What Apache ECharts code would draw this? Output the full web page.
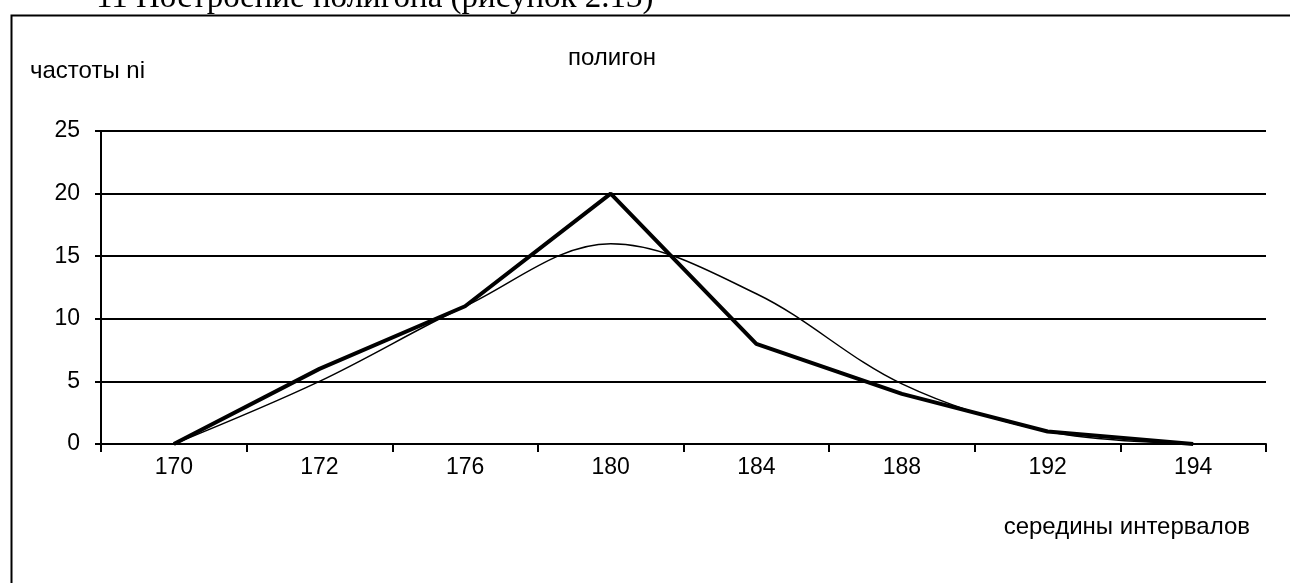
<!DOCTYPE html>
<html><head><meta charset="utf-8">
<script src="https://cdn.jsdelivr.net/npm/echarts@6/dist/echarts.min.js"></script>
<style>html,body{margin:0;padding:0;background:#fff}#c{width:1290px;height:583px}</style>
</head><body><div id="c"></div>
<script>
const categories = ['170','172','176','180','184','188','192','194'];
const polygonValues = [0, 6, 11, 20, 8, 4, 1, 0];
const trendValues = [0, 5, 11, 16, 12, 4.8, 1, 0];
const yTicks = {min: 0, max: 25, interval: 5};

const chart = echarts.init(document.getElementById('c'), null, {renderer: 'canvas'});
const font = '"Liberation Sans", Arial, sans-serif';
chart.setOption({
  animation: false,
  backgroundColor: '#fff',
  graphic: [
    {type: 'rect', left: 9, top: 13, shape: {width: 1300, height: 620}, style: {fill: 'none', stroke: '#000', lineWidth: 2}, z: 100},
    {type: 'text', x: 96, y: -2, style: {text: '11 Построение полигона (рисунок 2.13)', font: '33px "Liberation Serif", "Times New Roman", serif', fill: '#000', textVerticalAlign: 'middle'}, z: 100},
    {type: 'text', x: 30, y: 71, style: {text: 'частоты ni', font: '24px ' + font, fill: '#000', textVerticalAlign: 'middle'}},
    {type: 'text', x: 612, y: 58, style: {text: 'полигон', font: '24px ' + font, fill: '#000', textAlign: 'center', textVerticalAlign: 'middle'}},
    {type: 'text', x: 1250, y: 527, style: {text: 'середины интервалов', font: '24px ' + font, fill: '#000', textAlign: 'right', textVerticalAlign: 'middle'}}
  ],
  grid: {left: 101, right: 24, top: 131, bottom: 139, containLabel: false},
  xAxis: {
    type: 'category', data: categories, boundaryGap: true,
    axisLine: {lineStyle: {color: '#000', width: 2}},
    axisTick: {show: true, inside: false, length: 8, interval: 0, lineStyle: {color: '#000', width: 2}},
    axisLabel: {color: '#000', fontSize: 23, fontFamily: font, margin: 12},
    splitLine: {show: false}
  },
  yAxis: {
    type: 'value', min: yTicks.min, max: yTicks.max, interval: yTicks.interval,
    axisLine: {show: true, lineStyle: {color: '#000', width: 2}},
    axisTick: {show: true, length: 6, lineStyle: {color: '#000', width: 2}},
    axisLabel: {color: '#000', fontSize: 23, fontFamily: font, margin: 21},
    splitLine: {show: true, lineStyle: {color: '#000', width: 2}}
  },
  series: [
    {type: 'line', data: trendValues, smooth: 0.35, symbol: 'none', lineStyle: {color: '#000', width: 1.5}, z: 3},
    {type: 'line', data: polygonValues, smooth: false, symbol: 'none', lineStyle: {color: '#000', width: 4}, z: 4}
  ]
});
</script></body></html>
